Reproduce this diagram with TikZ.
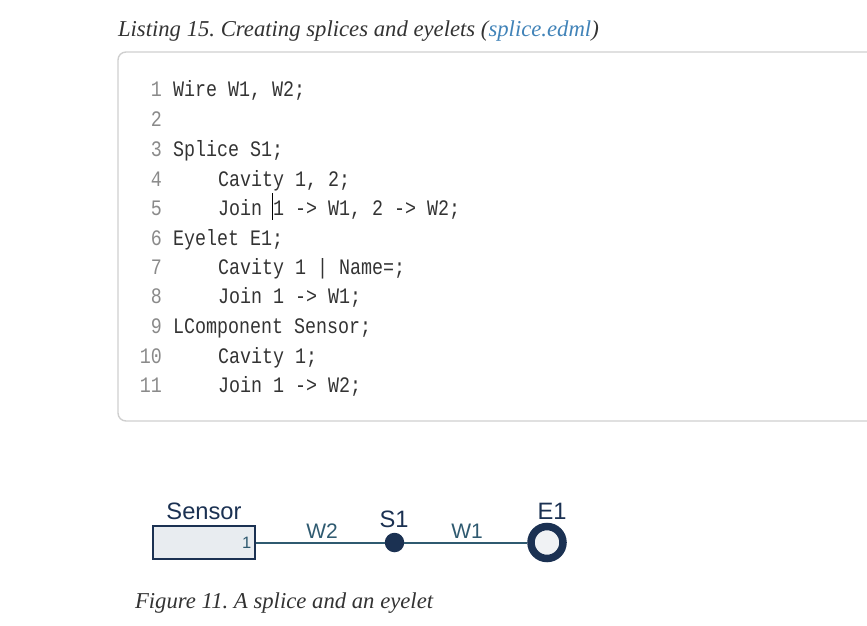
\documentclass[tikz,border=0pt]{standalone}
\usepackage{fontspec}
\setmainfont{Liberation Serif}
\setsansfont{Liberation Sans}
\setmonofont[FakeStretch=0.83]{Liberation Mono}
\definecolor{navy}{HTML}{1B3152}
\definecolor{wirecol}{HTML}{2F5A70}
\definecolor{boxfill}{HTML}{E8ECF0}
\definecolor{eyefill}{HTML}{F0F2F4}
\definecolor{codecol}{HTML}{333333}
\definecolor{numcol}{HTML}{8A8A8A}
\definecolor{linkcol}{HTML}{4183B8}
\definecolor{framecol}{HTML}{CFCFCF}
\tikzset{
  x=1pt,y=-1pt,
  code/.style={anchor=base west,inner sep=0pt,outer sep=0pt,text=codecol,font=\fontsize{22.1}{24}\selectfont\ttfamily},
  lnum/.style={anchor=base east,inner sep=0pt,outer sep=0pt,text=numcol,font=\fontsize{22.1}{24}\selectfont\ttfamily},
  caption/.style={anchor=base west,inner sep=0pt,outer sep=0pt,text=codecol,font=\fontsize{22.7}{25}\selectfont\itshape\frenchspacing},
  complabel/.style={inner sep=0pt,outer sep=0pt,text=navy,font=\fontsize{23.7}{26}\selectfont\sffamily},
  wirelabel/.style={inner sep=0pt,outer sep=0pt,text=wirecol,font=\fontsize{21}{24}\selectfont\sffamily},
  wire/.style={draw=wirecol,line width=2pt},
}
\begin{document}
\begin{tikzpicture}
\useasboundingbox (0,0) rectangle (867,626);
\node[caption] (cap1) at (118,37) {Listing 15. Creating splices and eyelets (\textcolor{linkcol}{splice.edml})};
\draw[framecol,line width=1.4pt,rounded corners=8pt] (875,52) -- (118,52) -- (118,421) -- (875,421);
\foreach \n/\yy in {1/96,2/126,3/156,4/186,5/215,6/245,7/274,8/303,9/333,10/363,11/392}{
  \node[lnum] (ln\n) at (162,\yy) {\n};
}
\node[code] (c1) at (173,96) {Wire W1, W2;};
\node[code] (c3) at (173,156) {Splice S1;};
\node[code] (c4) at (218,186) {Cavity 1, 2;};
\node[code] (c5) at (218,215) {Join 1 -> W1, 2 -> W2;};
\node[code] (c6) at (173,245) {Eyelet E1;};
\node[code] (c7) at (218,274) {Cavity 1 | Name=;};
\node[code] (c8) at (218,303) {Join 1 -> W1;};
\node[code] (c9) at (173,333) {LComponent Sensor;};
\node[code] (c10) at (218,363) {Cavity 1;};
\node[code] (c11) at (218,392) {Join 1 -> W2;};
\coordinate (cursortop) at (272.5,193);
\coordinate (cursorbot) at (272.5,220);
\draw[black,line width=0.9pt] (cursortop) -- (cursorbot);
% schematic
\node[draw=navy,fill=boxfill,line width=2pt,minimum width=102pt,minimum height=33.5pt,inner sep=0pt] (sensor) at (204,542.5) {};
\node[inner sep=0pt,text=wirecol,font=\fontsize{16.5}{18}\selectfont\sffamily,anchor=east] (pin) at (251.5,542.5) {1};
\node[circle,fill=navy,minimum size=19.5pt,inner sep=0pt] (splice) at (394.5,542.5) {};
\node[circle,draw=navy,fill=eyefill,line width=7.5pt,minimum size=32pt,inner sep=0pt] (eyelet) at (547,542.5) {};
\draw[wire] (sensor.east) -- (splice.west);
\draw[wire] (splice.east) -- (eyelet.west);
\node[complabel] (sname) at (204,511) {Sensor};
\node[complabel] (s1) at (394,519) {S1};
\node[complabel] (e1) at (552,511) {E1};
\node[wirelabel] (w2) at (322,531) {W2};
\node[wirelabel] (w1) at (467,531) {W1};
\node[caption] (cap2) at (135,608) {Figure 11. A splice and an eyelet};
\end{tikzpicture}
\end{document}
